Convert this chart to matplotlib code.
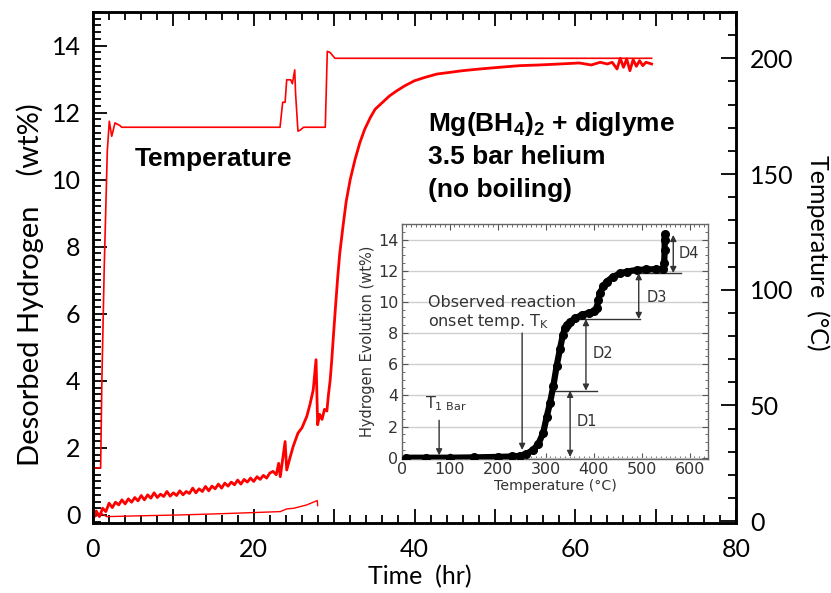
import matplotlib.pyplot as plt
from matplotlib.ticker import MultipleLocator, FuncFormatter

# fonts: humanist sans for axes, Arial-like bold for the notes
plt.rcParams['font.family'] = ['Lato', 'DejaVu Sans']
plt.rcParams['mathtext.fontset'] = 'custom'
plt.rcParams['mathtext.rm'] = 'DejaVu Sans'
plt.rcParams['mathtext.bf'] = 'Liberation Sans:bold'

RED = '#ff0000'
INK = '#333333'

# desorbed hydrogen (wt%) vs time (hr), main trace
h2_time = [0.0, 0.4, 0.8, 1.2, 1.6, 2.0, 2.4, 2.8, 3.2, 3.6, 4.0, 4.4, 4.8, 5.2,
           5.6, 6.0, 6.4, 6.8, 7.2, 7.6, 8.0, 8.4, 8.8, 9.2, 9.6, 10.0, 10.4,
           10.8, 11.2, 11.6, 12.0, 12.4, 12.8, 13.2, 13.6, 14.0, 14.4, 14.8,
           15.2, 15.6, 16.0, 16.4, 16.8, 17.2, 17.6, 18.0, 18.4, 18.8, 19.2,
           19.6, 20.0, 20.4, 20.8, 21.2, 21.6, 22.0, 22.4,
           22.8, 23.1, 23.3, 23.9, 24.1, 24.5, 24.9, 25.5, 26.0, 26.6, 27.0,
           27.4, 27.75, 27.95, 28.2, 28.5, 28.8, 29.1, 29.3, 29.5, 29.7, 29.9,
           30.2, 30.45, 30.7, 31.1, 31.5, 32.0, 32.6, 33.2, 33.8, 34.5, 35.1,
           36.0, 36.9, 37.8, 38.8, 40.0, 41.3, 42.8, 44.4, 46.0, 48.1, 50.5,
           53.1, 55.5, 58.1, 60.5, 62.0, 63.1, 64.0, 64.6, 65.2, 65.6, 66.0,
           66.4, 66.8, 67.2, 67.6, 68.0, 68.4, 68.8, 69.5]
h2_wt = [-0.1, 0.12, -0.05, 0.2, 0.1, 0.35, 0.22, 0.38, 0.3, 0.45, 0.33, 0.48,
         0.38, 0.52, 0.42, 0.58, 0.45, 0.6, 0.5, 0.66, 0.52, 0.62, 0.55, 0.7,
         0.56, 0.66, 0.58, 0.72, 0.6, 0.7, 0.64, 0.8, 0.66, 0.78, 0.7, 0.85,
         0.72, 0.86, 0.78, 0.92, 0.8, 0.95, 0.86, 0.98, 0.9, 1.04, 0.92, 1.06,
         0.98, 1.1, 1.0, 1.14, 1.06, 1.18, 1.1, 1.25, 1.3,
         1.2, 1.54, 1.14, 2.19, 1.34, 1.7, 2.04, 2.44, 2.6, 2.94, 3.3, 3.73, 4.63,
         2.69, 3.0, 2.85, 3.15, 3.1, 3.6, 4.0, 4.6, 5.3, 6.3, 7.1, 7.8, 8.6,
         9.35, 10.0, 10.6, 11.1, 11.5, 11.85, 12.1, 12.3, 12.5, 12.65, 12.8,
         12.95, 13.05, 13.15, 13.2, 13.25, 13.3, 13.35, 13.4, 13.42, 13.45,
         13.48, 13.42, 13.5, 13.45, 13.5, 13.3, 13.62, 13.35, 13.6, 13.25,
         13.58, 13.38, 13.55, 13.4, 13.5, 13.45]

# second, low hydrogen trace
low_time = [0.3, 1.0, 1.7, 5.0, 10.8, 15.0, 19.9, 23.3, 24.1, 25.0, 26.6, 27.9, 27.95]
low_wt = [-0.05, 0.05, -0.05, -0.03, 0.0, 0.03, 0.07, 0.1, 0.18, 0.2, 0.3, 0.43, 0.28]

# temperature (C) vs time (hr)
temp_time = [0.0, 0.95, 1.1, 1.4, 1.78, 2.03, 2.33, 2.74, 3.36, 3.57, 23.27, 23.6,
             23.9, 24.1, 24.6, 24.8, 25.1, 25.2, 25.5, 25.8, 26.2, 28.9, 29.15,
             29.5, 30.1, 69.5]
temp_c = [23, 23, 60, 110, 160, 172.8, 166.3, 172.1, 170.9, 170.2, 170.2, 181,
          181, 190.7, 190.7, 189, 195, 185, 168.5, 169, 170.2, 170.2, 203, 202.5,
          200, 200]

# inset: hydrogen evolution vs temperature
ins_temp = [10, 50, 100, 150, 200, 230, 246, 260, 274, 285, 295, 302, 309, 316,
            323, 330, 336, 340, 345, 350, 361, 375, 390, 400, 406, 410, 413, 420,
            427, 440, 455, 470, 490, 510, 530, 545, 547, 548, 548, 548]
ins_wt = [0, 0, 0, 0.02, 0.05, 0.08, 0.12, 0.25, 0.5, 0.9, 1.6, 2.6, 3.5, 4.6,
          5.9, 7.0, 7.9, 8.3, 8.55, 8.7, 8.95, 9.15, 9.3, 9.4, 9.6, 10.1, 10.55,
          11.0, 11.3, 11.6, 11.83, 11.95, 12.05, 12.08, 12.1, 12.12, 12.5, 13.3,
          14.0, 14.35]

W, H = 831, 593
fig = plt.figure(figsize=(W / 100, H / 100), dpi=100)
ax = fig.add_axes([93 / W, (H - 523) / H, (736 - 93) / W, (523 - 12) / H])

ax.plot(h2_time, h2_wt, color=RED, lw=2.0)
ax.plot(low_time, low_wt, color=RED, lw=1.0)
ax.set_xlim(0, 80)
ax.set_ylim(-0.24, 15)

ax.xaxis.set_major_locator(MultipleLocator(10))
ax.xaxis.set_minor_locator(MultipleLocator(2))
ax.xaxis.set_major_formatter(FuncFormatter(lambda v, p: '%d' % v if int(round(v)) % 20 == 0 else ''))
ax.yaxis.set_major_locator(MultipleLocator(2))
ax.yaxis.set_minor_locator(MultipleLocator(0.2))
ax.tick_params(which='both', direction='in', top=True, right=False, width=1.3,
               labelsize=18, colors='black')
ax.tick_params(which='major', length=10, pad=9)
ax.tick_params(which='minor', length=5.5)
ax.tick_params(axis='x', pad=11)

ax2 = ax.twinx()
ax2.plot(temp_time, temp_c, color=RED, lw=1.2)
ax2.set_ylim(-0.8, 220)
ax2.yaxis.set_major_locator(MultipleLocator(50))
ax2.yaxis.set_minor_locator(MultipleLocator(10))
ax2.tick_params(which='both', direction='in', width=1.3, labelsize=18, pad=10)
ax2.tick_params(which='major', length=11)
ax2.tick_params(which='minor', length=6)

for a in (ax, ax2):
    for s in a.spines.values():
        s.set_linewidth(1.8)

fig.text(30 / W, 1 - 285 / H, 'Desorbed Hydrogen    (wt%)', rotation=90,
         ha='center', va='center', fontsize=21)
fig.text(420 / W, 1 - 577 / H, 'Time  (hr)', ha='center', va='center', fontsize=18)
fig.text(818 / W, 1 - 253 / H, 'Temperature  (°C)', rotation=270,
         ha='center', va='center', fontsize=18)

bold = dict(family='Liberation Sans', weight='bold', fontsize=19)
ax.text(5.2, 10.40, 'Temperature', **bold)
ax.text(41.7, 11.45, r'Mg(BH$_\mathbf{4}$)$_\mathbf{2}$ + diglyme', **bold)
ax.text(41.7, 10.46, '3.5 bar helium', **bold)
ax.text(41.7, 9.48, '(no boiling)', **bold)

# inset figure
small = dict(family='DejaVu Sans', color=INK)
axin = fig.add_axes([401.7 / W, (H - 458.5) / H, (708.3 - 401.7) / W, (458.5 - 224) / H])
axin.set_facecolor('white')
axin.plot(ins_temp, ins_wt, color='black', lw=4.5, marker='o', ms=5.5,
          solid_capstyle='round', zorder=3)
axin.set_xlim(0, 639)
axin.set_ylim(-0.05, 15)
axin.xaxis.set_major_locator(MultipleLocator(100))
axin.xaxis.set_minor_locator(MultipleLocator(10))
axin.yaxis.set_major_locator(MultipleLocator(2))
axin.yaxis.set_minor_locator(MultipleLocator(0.5))
axin.grid(axis='y', color='#cfcfcf', lw=1.0)
axin.set_axisbelow(True)
axin.tick_params(which='both', direction='in', top=True, right=True, color='#555555',
                 labelcolor=INK, labelsize=11.5, pad=2.5)
axin.tick_params(which='major', length=4)
axin.tick_params(which='minor', length=2.5)
for lab in axin.get_xticklabels() + axin.get_yticklabels():
    lab.set_family('DejaVu Sans')
for s in axin.spines.values():
    s.set_linewidth(1.0)
    s.set_color('#666666')
axin.set_xlabel('Temperature (°C)', fontsize=10.2, labelpad=1.5, **small)
axin.set_ylabel('Hydrogen Evolution (wt%)', fontsize=10.5, labelpad=2, **small)

arr = dict(arrowstyle='-|>', color=INK, lw=1.0, mutation_scale=9, shrinkA=0, shrinkB=0)
arr2 = dict(arrowstyle='<|-|>', color=INK, lw=1.0, mutation_scale=9, shrinkA=0, shrinkB=0)
axin.text(48, 3.45, r'T$_{\mathrm{1\ Bar}}$', fontsize=11.5, va='center', **small)
axin.annotate('', xy=(78, 0.15), xytext=(78, 2.4), arrowprops=arr)
axin.text(55, 9.3, 'Observed reaction\nonset temp. T$_\\mathrm{K}$', fontsize=11.5,
          va='center', linespacing=1.1, **small)
axin.annotate('', xy=(251, 0.5), xytext=(251, 8.0), arrowprops=arr)

axin.plot([320, 406], [4.3, 4.3], color=INK, lw=1.0)
axin.annotate('', xy=(351, 4.3), xytext=(351, 0.05), arrowprops=arr2)
axin.text(364, 2.3, 'D1', fontsize=10.5, va='center', **small)

axin.plot([371, 496], [8.9, 8.9], color=INK, lw=1.0)
axin.annotate('', xy=(384, 8.9), xytext=(384, 4.3), arrowprops=arr2)
axin.text(398, 6.7, 'D2', fontsize=10.5, va='center', **small)

axin.plot([490, 583], [11.85, 11.85], color=INK, lw=1.0)
axin.annotate('', xy=(494, 11.85), xytext=(494, 8.9), arrowprops=arr2)
axin.text(510, 10.3, 'D3', fontsize=10.5, va='center', **small)

axin.annotate('', xy=(566, 14.3), xytext=(566, 11.85), arrowprops=arr2)
axin.text(578, 13.1, 'D4', fontsize=10.5, va='center', **small)

fig.savefig('out.png', dpi=100)
